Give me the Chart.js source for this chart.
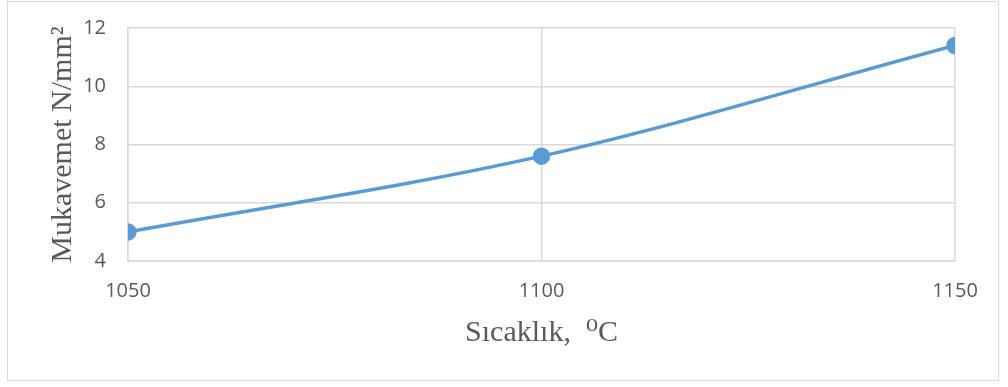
<!DOCTYPE html>
<html><head><meta charset="utf-8">
<script src="https://cdn.jsdelivr.net/npm/chart.js@4"></script>
<style>html,body{margin:0;padding:0;background:#fff;}#wrap{width:1008px;height:387px;position:relative;}</style>
</head><body><div id="wrap"><canvas id="c" width="1008" height="387"></canvas></div>
<script>
const temperatures = [1050, 1100, 1150];
const strengths = [5.0, 7.6, 11.4];
const yTicks = [4, 6, 8, 10, 12];
const xTitle = 'Sıcaklık,  \u2070C';
const yTitle = 'Mukavemet N/mm\u00B2';

const borderPlugin = {
  id: 'outerBorder',
  beforeDraw(chart) {
    const ctx = chart.ctx;
    ctx.save();
    ctx.fillStyle = '#fff';
    ctx.fillRect(0, 0, chart.width, chart.height);
    ctx.strokeStyle = '#d9d9d9';
    ctx.lineWidth = 1;
    ctx.strokeRect(7.5, 1.5, 991, 379);
    ctx.restore();
  }
};

new Chart(document.getElementById('c'), {
  type: 'line',
  data: {
    datasets: [{
      data: temperatures.map((t, i) => ({x: t, y: strengths[i]})),
      borderColor: '#5b9bd5',
      backgroundColor: '#5b9bd5',
      borderWidth: 3.5,
      pointRadius: 7,
      pointHoverRadius: 7,
      cubicInterpolationMode: 'monotone',
      fill: false
    }]
  },
  options: {
    responsive: false,
    animation: false,
    devicePixelRatio: 1,
    layout: {padding: {left: 10, right: 53, top: 28, bottom: 36}},
    plugins: {legend: {display: false}, tooltip: {enabled: false}},
    scales: {
      x: {
        type: 'linear', min: temperatures[0], max: temperatures[temperatures.length - 1],
        afterBuildTicks(scale) { scale.ticks = temperatures.map(v => ({value: v})); },
        grid: {color: '#d9d9d9', lineWidth: 1.5, drawTicks: false},
        border: {color: '#d9d9d9', width: 1.5},
        ticks: {color: '#595959', font: {family: 'Open Sans', size: 20}, padding: 18, maxRotation: 0,
          callback: v => String(v)},
        title: {display: true, text: xTitle, color: '#595959', font: {family: "'Liberation Serif', 'DejaVu Serif', serif", size: 30}, padding: {top: 2, bottom: 0}},
        afterFit(scale) { scale.height = 387 - 261 - 36; }
      },
      y: {
        min: 4, max: 12,
        afterBuildTicks(scale) { scale.ticks = yTicks.map(v => ({value: v})); },
        grid: {color: '#d9d9d9', lineWidth: 1.5, drawTicks: false},
        border: {color: '#d9d9d9', width: 1.5},
        ticks: {color: '#595959', font: {family: 'Open Sans', size: 20}, padding: 22, callback: v => String(v)},
        title: {display: true, text: yTitle, color: '#595959', font: {family: "'Liberation Serif', 'DejaVu Serif', serif", size: 30}, padding: {top: 35, bottom: 0}},
        afterFit(scale) { scale.width = 128 - 10; scale.paddingTop = 0; scale.paddingBottom = 0; }
      }
    }
  },
  plugins: [borderPlugin]
});
</script></body></html>
